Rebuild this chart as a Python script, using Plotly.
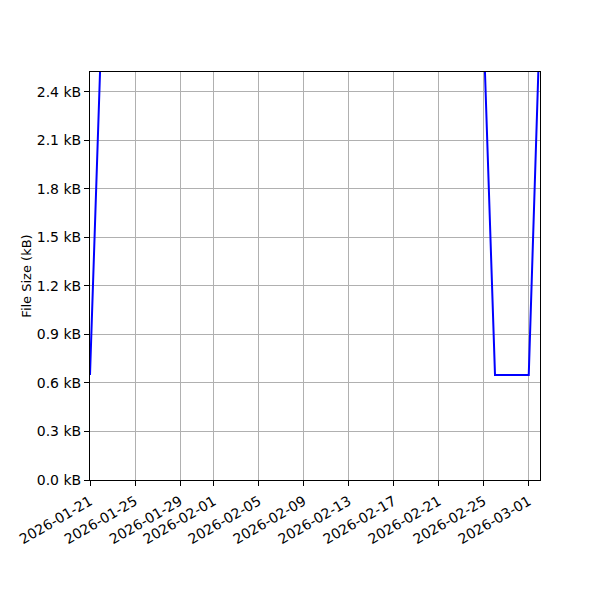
import pandas as pd
import plotly.graph_objects as go

# daily file sizes in kB (the plateau between 01-22 and 02-25 lies above the visible range)
dates = ['2026-01-21', '2026-01-22', '2026-02-25', '2026-02-26',
         '2026-02-27', '2026-02-28', '2026-03-01', '2026-03-02']
sizes_kb = [0.65, 2.75, 2.75, 0.65, 0.65, 0.65, 0.65, 2.85]

tick_dates = ['2026-01-21', '2026-01-25', '2026-01-29', '2026-02-01', '2026-02-05',
              '2026-02-09', '2026-02-13', '2026-02-17', '2026-02-21', '2026-02-25',
              '2026-03-01']
y_ticks = [0.0, 0.3, 0.6, 0.9, 1.2, 1.5, 1.8, 2.1, 2.4]

df = pd.DataFrame({'date': pd.to_datetime(dates), 'size': sizes_kb})

fig = go.Figure()
fig.add_trace(go.Scatter(x=df['date'], y=df['size'], mode='lines',
                         line=dict(color='blue', width=2), showlegend=False))

fig.update_layout(
    width=600, height=600, autosize=False,
    margin=dict(l=82, r=68, t=64, b=128),
    plot_bgcolor='white', paper_bgcolor='white',
    font=dict(family='DejaVu Sans', size=14, color='black'),
)
fig.update_xaxes(
    range=['2026-01-21', '2026-03-02'], automargin=False,
    tickvals=pd.to_datetime(tick_dates), ticktext=tick_dates, tickangle=-30,
    tickfont=dict(size=14), ticklabelstandoff=2,
    showgrid=True, gridcolor='#b0b0b0', gridwidth=1,
    showline=True, linecolor='black', linewidth=1, mirror=True,
    ticks='outside', ticklen=5, tickcolor='black', zeroline=False,
)
fig.update_yaxes(
    range=[0, 2.523], automargin=False, tickvals=y_ticks,
    ticktext=[f'{v:.1f} kB' for v in y_ticks], tickfont=dict(size=14),
    title_text='File Size (kB)', title_font=dict(size=13), title_standoff=2,
    showgrid=True, gridcolor='#b0b0b0', gridwidth=1,
    showline=True, linecolor='black', linewidth=1, mirror=True,
    ticks='outside', ticklen=5, tickcolor='black', zeroline=False,
)

fig.write_html("out.html")
